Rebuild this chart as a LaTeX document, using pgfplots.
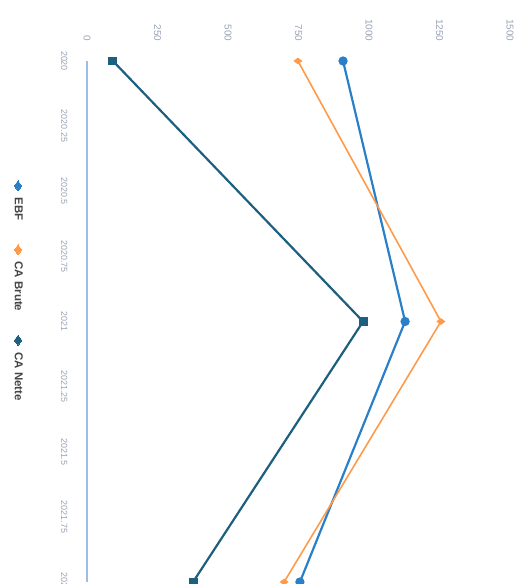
\documentclass[border=0pt]{standalone}
\usepackage{pgfplots}
\pgfplotsset{compat=1.18}
\usepackage{graphicx}
\usepackage{fontspec}
\setmainfont{Liberation Sans}
\definecolor{ebf}{HTML}{2A80C8}
\definecolor{brute}{HTML}{FF9A4A}
\definecolor{nette}{HTML}{1D5F7E}
\definecolor{ticktxt}{HTML}{9AA3B5}
\definecolor{axisline}{HTML}{9DBDE8}
\definecolor{legtxt}{HTML}{454545}
\begin{document}
\rotatebox{-90}{%
\begin{tikzpicture}[x=1bp,y=1bp]
\useasboundingbox (0,0) rectangle (584,526);
\begin{axis}[
  at={(61bp,87bp)}, anchor=south west,
  scale only axis, width=521bp, height=423bp,
  xmin=2020, xmax=2022, ymin=0, ymax=1500,
  axis line style={draw=none},
  xtick={2020,2020.25,...,2022},
  xticklabels={2020,2020.25,2020.5,2020.75,2021,2021.25,2021.5,2021.75,2022},
  ytick={0,250,...,1500},
  yticklabels={0,250,500,750,1000,1250,1500},
  major tick length=0pt,
  tick label style={text=ticktxt},
  yticklabel style={font=\fontsize{10}{11}\selectfont, xshift=-16bp, anchor=east},
  xticklabel style={font=\fontsize{9}{10}\selectfont, yshift=-16bp, anchor=north},
  clip=false,
  legend columns=-1,
  legend style={draw=none, font=\bfseries\fontsize{11.5}{12}\selectfont,
    text=legtxt, at={(axis description cs:0.443,-0.163)}, anchor=center,
    /tikz/every odd column/.append style={column sep=5bp},
    /tikz/every even column/.append style={column sep=22bp}},
  legend image code/.code={%
    \draw[#1, mark=diamond*, mark size=5pt, line width=0pt,
      mark options={rotate=90}]
      plot coordinates {(0cm,0cm)};},
  every axis plot/.append style={line width=2.2pt},
]
% baseline of the value axis
\draw[axisline, line width=2pt] (axis cs:2020,0) -- (axis cs:2022,0);
\addplot[ebf, mark=*, mark size=3.5pt] coordinates {(2020,908) (2021,1128) (2022,755)};
\addlegendentry{EBF}
\addplot[brute, line width=1.6pt, mark=diamond*, mark size=3.2pt] coordinates {(2020,748) (2021,1255) (2022,699)};
\addlegendentry{CA Brute}
\addplot[nette, mark=square*, mark size=3.4pt] coordinates {(2020,92) (2021,979) (2022,376)};
\addlegendentry{CA Nette}
\end{axis}
\end{tikzpicture}}
\end{document}
